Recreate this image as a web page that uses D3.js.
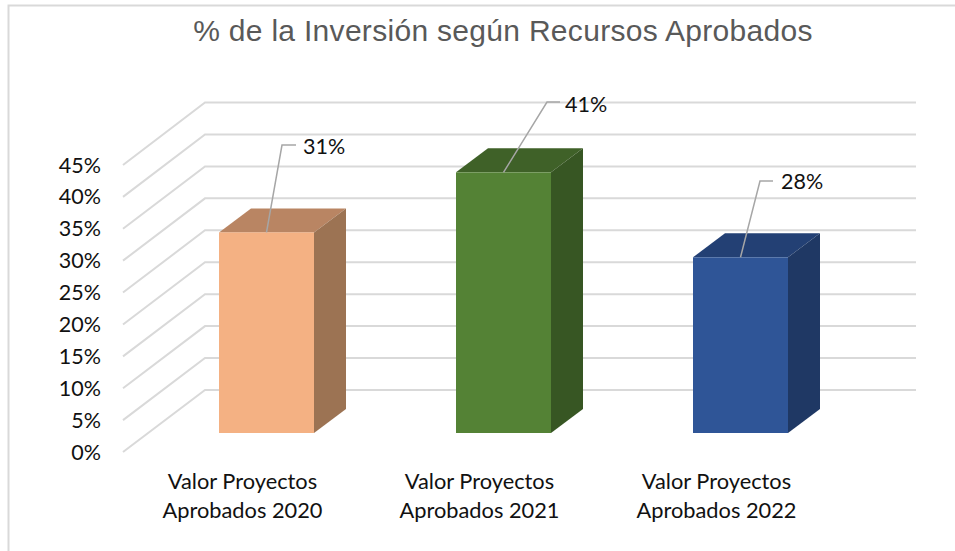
<!DOCTYPE html>
<html><head><meta charset="utf-8">
<script src="https://cdn.jsdelivr.net/npm/d3@7"></script>
<style>html,body{margin:0;padding:0;background:#fff}svg{display:block}</style>
</head><body><div id="c"></div>
<script>
const categories = [["Valor Proyectos","Aprobados 2020"],["Valor Proyectos","Aprobados 2021"],["Valor Proyectos","Aprobados 2022"]];
const values = [31.4, 40.8, 27.5];
const labels = ["31%","41%","28%"];
const ticks = [0,5,10,15,20,25,30,35,40,45];
const faceColors = ["#F4B183","#548235","#2F5597"];
const topColors = ["#B98563","#3F6128","#234074"];
const sideColors = ["#9C7353","#375623","#1F3864"];
const labelAnchor = [[282,145,296,303,8.5],[547,102,560,565,10],[760,181,773,781,8]];

const W=955,H=551;
const svg=d3.select("#c").append("svg").attr("width",W).attr("height",H);
svg.append("rect").attr("width",W).attr("height",H).attr("fill","#fff");
svg.append("path").attr("d","M8.5,551V5.5H955").attr("fill","none").attr("stroke","#d9d9d9").attr("stroke-width",2);

const yFront=d3.scaleLinear().domain([0,45]).range([452,165]);
const yBack=d3.scaleLinear().domain([0,45]).range([390,102.5]);
const yBar=d3.scaleLinear().domain([0,45]).range([433,145.5]);
const x=d3.scaleBand().domain(d3.range(3)).range([148,859]);
const wallL=205,wallR=916,frontL=123;
const grid=svg.append("g").attr("fill","none").attr("stroke","#d9d9d9").attr("stroke-width",2);
ticks.forEach(t=>{
  grid.append("polyline").attr("points",[[frontL,yFront(t)],[wallL,yBack(t)],[wallR,yBack(t)]].join(" "));
});
svg.append("g").selectAll("text").data(ticks).join("text")
  .attr("x",101).attr("y",t=>yFront(t)+7.5).attr("text-anchor","end")
  .attr("font-family","Lato, Carlito, sans-serif").attr("font-size",21.5).attr("fill","#111")
  .text(t=>t+"%");

const barW=95,dx=32,dy=24;
const barX=i=>x(i)+x.bandwidth()/2-barW/2;
const bars=svg.append("g");
values.forEach((v,i)=>{
  const l=barX(i),r=l+barW,t=yBar(v),b=yBar(0);
  bars.append("polygon").attr("fill",topColors[i]).attr("points",[[l,t],[l+dx,t-dy],[r+dx,t-dy],[r,t]].join(" "));
  bars.append("polygon").attr("fill",sideColors[i]).attr("points",[[r,t],[r+dx,t-dy],[r+dx,b-dy],[r,b]].join(" "));
  bars.append("rect").attr("x",l).attr("y",t).attr("width",barW).attr("height",b-t).attr("fill",faceColors[i]);
  const a=labelAnchor[i];
  bars.append("polyline").attr("fill","none").attr("stroke","#a6a6a6").attr("stroke-width",1.5)
    .attr("points",[[l+barW/2,t],[a[0],a[1]],[a[2],a[1]]].join(" "));
  bars.append("text").attr("x",a[3]).attr("y",a[1]+a[4])
    .attr("font-family","Lato, Carlito, sans-serif").attr("font-size",21.5).attr("fill","#111").text(labels[i]);
  const cat=svg.append("text").attr("text-anchor","middle")
    .attr("font-family","Lato, Carlito, sans-serif").attr("font-size",21.8).attr("fill","#111");
  categories[i].forEach((s,j)=>cat.append("tspan").attr("x",l+barW/2-24).attr("y",489+j*29).text(s));
});
svg.append("text").attr("x",503).attr("y",41).attr("text-anchor","middle")
  .attr("font-family","'Liberation Sans', Arial, sans-serif").attr("font-size",30).attr("letter-spacing",0.3).attr("fill","#595959")
  .text("% de la Inversión según Recursos Aprobados");
</script></body></html>
